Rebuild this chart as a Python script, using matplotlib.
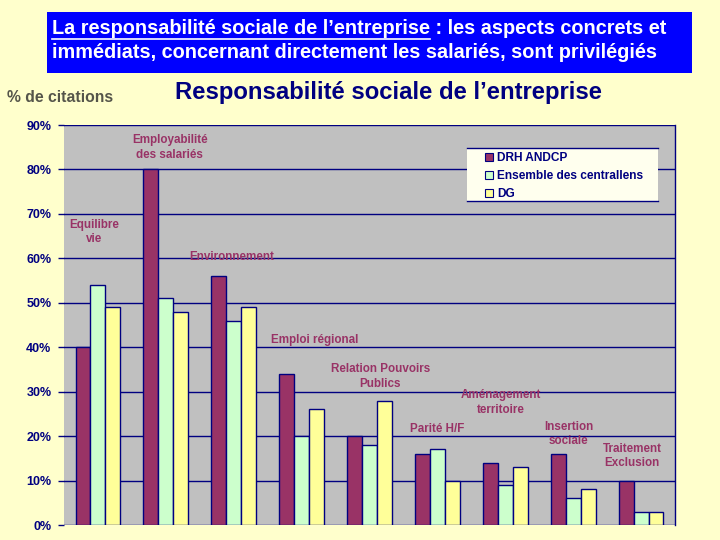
import matplotlib
matplotlib.use("Agg")
import matplotlib.pyplot as plt
import numpy as np
from matplotlib.patches import Rectangle, Patch
from matplotlib.lines import Line2D

plt.rcParams['font.family'] = ['Liberation Sans', 'DejaVu Sans']

# ---- data ----
categories = ["Equilibre\nvie", "Employabilité\ndes salariés", "Environnement",
              "Emploi régional", "Relation Pouvoirs\nPublics", "Parité H/F",
              "Aménagement\nterritoire", "Insertion\nsociale", "Traitement\nExclusion"]
series_names = ["DRH ANDCP", "Ensemble des centrallens", "DG"]
drh = [40, 80, 56, 34, 20, 16, 14, 16, 10]
ensemble = [54, 51, 46, 20, 18, 17, 9, 6, 3]
dg = [49, 48, 49, 26, 28, 10, 13, 8, 3]
yticks = [0, 10, 20, 30, 40, 50, 60, 70, 80, 90]

# ---- layout / style (not data) ----
label_pos = [(-0.06, 65.9), (1.06, 84.9), (1.97, 60.3), (3.19, 41.6), (4.16, 33.4),
             (5.0, 21.6), (5.94, 27.6), (6.93, 20.5), (7.87, 15.5)]
colors = ["#993366", "#CCFFCC", "#FFFF99"]
navy = "#000080"
fig_bg = "#FFFFCC"

fig = plt.figure(figsize=(7.2, 5.4), dpi=100, facecolor=fig_bg)
ax = fig.add_axes([64/720, 15/540, 611/720, 400/540])
ax.set_facecolor("#C0C0C0")

x = np.arange(len(categories))
w = 0.22
for k, (vals, col, name) in enumerate(zip([drh, ensemble, dg], colors, series_names)):
    ax.bar(x + (k - 1) * w, vals, width=w, color=col, edgecolor=navy, linewidth=1.0,
           label=name, zorder=3)

ax.set_xlim(-0.5, len(categories) - 0.5)
ax.set_ylim(0, 90)
ax.set_yticks(yticks)
ax.set_yticklabels([f"{t}%" for t in yticks], color=navy, fontweight='bold', fontsize=9)
ax.set_xticks([])
ax.yaxis.grid(True, color=navy, linewidth=1.0, zorder=0)
ax.set_axisbelow(True)
ax.tick_params(axis='y', length=4, color=navy, width=1.0, pad=5)
for s in ['top', 'left', 'bottom']:
    ax.spines[s].set_visible(False)
ax.spines['right'].set_color(navy)
ax.spines['right'].set_linewidth(1.0)

for lab, (lx, ly) in zip(categories, label_pos):
    ax.text(lx, ly, lab, ha='center', va='center', color="#993366",
            fontweight='bold', fontsize=8.4, linespacing=1.3, zorder=4)

# legend box: light background with navy lines on top and bottom only
lx0, lx1 = (467-64)/611, (658-64)/611
ly0, ly1 = (525-201)/400, (525-148)/400
ax.add_patch(Rectangle((lx0, ly0), lx1 - lx0, ly1 - ly0, transform=ax.transAxes,
                       facecolor="#FFFFEE", edgecolor='none', zorder=5))
for yy in (ly0, ly1):
    ax.add_line(Line2D([lx0, lx1], [yy, yy], transform=ax.transAxes, color=navy,
                       linewidth=1.0, zorder=6))
handles = [Patch(facecolor=c, edgecolor=navy, linewidth=0.8) for c in colors]
leg = ax.legend(handles, series_names, loc='upper left',
                bbox_to_anchor=((485-64)/611, (525-152)/400),
                frameon=False, borderpad=0,
                handlelength=0.65, handleheight=0.65, handletextpad=0.35,
                labelspacing=0.5, borderaxespad=0,
                prop={'weight': 'bold', 'size': 8.6})
for t in leg.get_texts():
    t.set_color(navy)
leg.set_zorder(7)

# ---- title box ----
fig.patches.append(Rectangle((47/720, 1 - 73/540), (692-47)/720, (73-12)/540,
                             transform=fig.transFigure, facecolor="#0000FF",
                             edgecolor='none', zorder=0))
fsize = 14.3
t1 = fig.text(52/720, 1 - 28/540, "La responsabilité sociale de l’entreprise",
              color='white', fontweight='bold', fontsize=fsize, va='center', ha='left')
fig.canvas.draw()
r = fig.canvas.get_renderer()
bb = t1.get_window_extent(r)
fig.text(bb.x1 / 720, 1 - 28/540, " : les aspects concrets et",
         color='white', fontweight='bold', fontsize=fsize, va='center', ha='left')
fig.lines.append(Line2D([bb.x0 / 720, bb.x1 / 720], [1 - 38.5/540, 1 - 38.5/540],
                        transform=fig.transFigure, color='white', linewidth=1.2))
fig.text(52/720, 1 - 53/540, "immédiats, concernant directement les salariés, sont privilégiés",
         color='white', fontweight='bold', fontsize=fsize, va='center', ha='left')

fig.text(7/720, 1 - 97.5/540, "% de citations", color="#55554a", fontsize=11.3,
         fontweight='bold', va='center', ha='left')
fig.text(175/720, 1 - 92/540, "Responsabilité sociale de l’entreprise", color=navy,
         fontsize=17.2, fontweight='bold', va='center', ha='left')

fig.savefig("out.png", dpi=100, facecolor=fig_bg)
